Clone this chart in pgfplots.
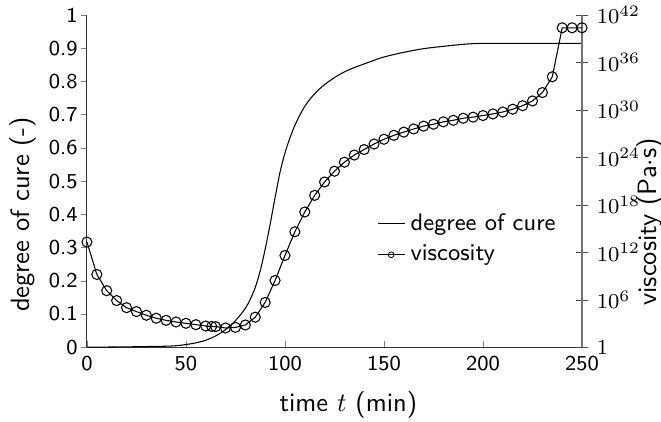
\documentclass[border=0pt]{standalone}
\usepackage{pgfplots}
\usepackage{pgfplotstable}
\pgfplotsset{compat=1.18}
\renewcommand{\familydefault}{\sfdefault}

% degree of cure over time
\pgfplotstableread{
t alpha
0 0
10 0.0005
20 0.001
30 0.002
40 0.003
45 0.0045
50 0.008
55 0.013
60 0.021
65 0.034
70 0.053
75 0.08
80 0.117
82.5 0.145
85 0.18
87.5 0.23
90 0.295
92.5 0.37
95 0.45
97.5 0.527
100 0.585
102.5 0.630
105 0.668
107.5 0.699
110 0.725
112.5 0.746
115 0.763
117.5 0.778
120 0.791
125 0.812
130 0.829
135 0.842
140 0.853
145 0.864
150 0.874
160 0.888
170 0.899
180 0.906
190 0.912
200 0.915
225 0.915
250 0.915
}\curetable

% viscosity over time (Pa s)
\pgfplotstableread{
t eta
0 2.0e13
5 1.6e9
10 1.4e7
15 7.9e5
20 1.0e5
25 3.2e4
30 1.1e4
35 4.6e3
40 2.5e3
45 1.55e3
50 1.05e3
55 7.1e2
60 4.8e2
63 4.2e2
65 4.0e2
70 2.7e2
75 3.2e2
80 6.5e2
85 6.3e3
90 4.6e5
95 2.7e8
100 4.0e11
105 4.0e14
110 1.26e17
115 1.6e19
120 7.9e20
125 1.8e22
130 2.5e23
135 2.0e24
140 1.0e25
145 5.0e25
150 2.0e26
155 6.3e26
160 1.6e27
165 4.0e27
170 9.1e27
175 1.6e28
180 3.2e28
185 5.0e28
190 9.1e28
195 1.26e29
200 2.0e29
205 3.2e29
210 5.6e29
215 1.26e30
220 3.5e30
225 1.4e31
230 1.6e32
235 1.6e34
240 2.5e40
245 2.5e40
250 2.5e40
}\visctable

\begin{document}
\begin{tikzpicture}
\path[use as bounding box] (-32.8pt,-27.9pt) rectangle (216.6pt,131.0pt);
\begin{axis}[
  scale only axis,
  width=186.8pt, height=125.3pt,
  xmin=0, xmax=250, ymin=0, ymax=1,
  axis x line*=bottom, axis y line*=left,
  axis line style={black!80},
  xtick={0,50,...,250},
  ytick={0,0.1,...,1.0},
  /pgf/number format/assume math mode=true,
  tick label style={font=\footnotesize},
  tick align=inside,
  major tick length=2.2pt,
  ytick style={xshift=-2.2pt},
  xlabel={time $t$ (min)},
  ylabel={degree of cure (-)},
  xlabel style={at={(axis description cs:0.528,-0.175)}, anchor=center},
  ylabel style={at={(axis description cs:-0.1295,0.40)}, anchor=center, rotate=0},
  legend style={at={(0.585,0.42)}, anchor=north west, draw=none, fill=none,
    inner sep=0pt, row sep=0pt, font=\small},
  legend cell align=left,
  legend image code/.code={\draw[mark repeat=2,mark phase=2,#1]
    plot coordinates {(0cm,0cm) (0.18cm,0cm) (0.36cm,0cm)};},
]
\addplot[black, line width=0.4pt, smooth] table[x=t, y=alpha] {\curetable};
\addlegendentry{degree of cure}
\addlegendimage{black, line width=0.3pt, mark=o, mark size=1.1pt}
\addlegendentry{viscosity}
\end{axis}
\begin{axis}[
  scale only axis,
  width=186.8pt, height=125.3pt,
  xmin=0, xmax=250,
  ymode=log, ymin=1, ymax=1e42,
  axis x line=none,
  axis y line*=right,
  axis line style={black!55, line width=0.5pt},
  ytick={1,1e6,1e12,1e18,1e24,1e30,1e36,1e42},
  yticklabels={$1$,$10^{6}$,$10^{12}$,$10^{18}$,$10^{24}$,$10^{30}$,$10^{36}$,$10^{42}$},
  yticklabel style={font=\footnotesize},
  tick align=center,
  major tick length=4.2pt,
  minor tick num=0,
  ytick style={black!70},
  ylabel={viscosity (Pa$\cdot$s)},
  ylabel style={at={(axis description cs:1.1375,0.377)}, anchor=center},
]
\addplot[black, line width=0.4pt, mark=o, mark size=1.9pt] table[x=t, y=eta] {\visctable};
\end{axis}
\end{tikzpicture}
\end{document}
